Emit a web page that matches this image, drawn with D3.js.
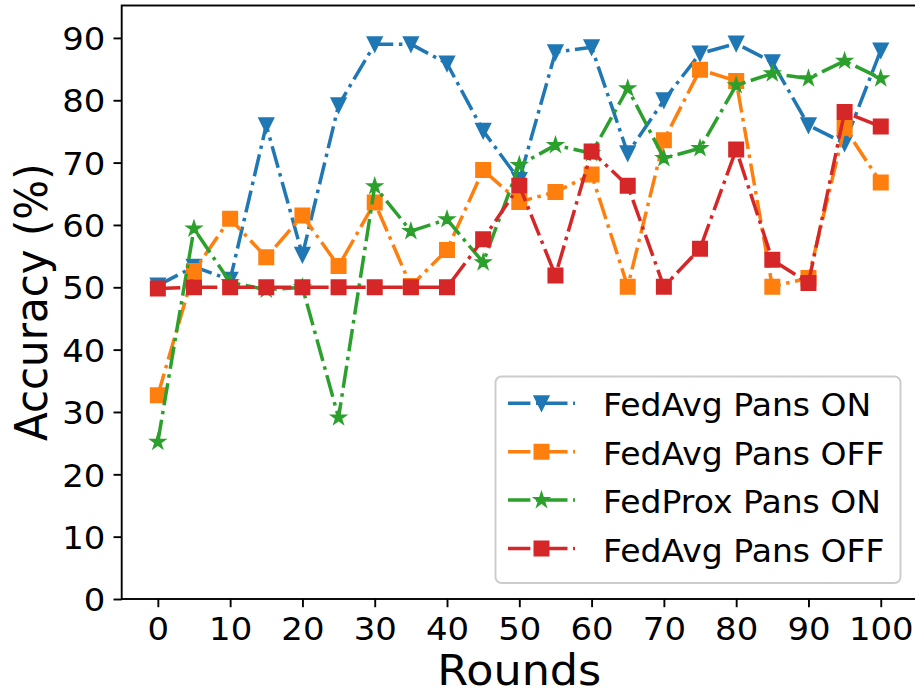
<!DOCTYPE html>
<html>
<head>
<meta charset="utf-8">
<script src="https://cdn.jsdelivr.net/npm/d3@7"></script>
<style>
  html, body { margin: 0; padding: 0; background: #fff; }
  svg { display: block; }
  text { font-family: "DejaVu Sans", sans-serif; fill: #000; }
</style>
</head>
<body>
<svg id="chart" width="915" height="695"></svg>
<script>
// Accuracy per communication round
const rounds = [0, 5, 10, 15, 20, 25, 30, 35, 40, 45, 50, 55, 60, 65, 70, 75, 80, 85, 90, 95, 100];

const fedAvgOn = [50.3, 53.3, 51.2, 76.0, 55.2, 79.2, 89.0, 89.0, 85.9, 75.1, 67.2,
                  87.7, 88.5, 71.5, 80.0, 87.5, 89.1, 86.1, 76.0, 73.1, 88.0];
const fedAvgOff = [32.7, 52.6, 61.0, 54.8, 61.5, 53.4, 63.6, 50.2, 56.0, 68.8, 63.7,
                   65.3, 68.1, 50.1, 73.6, 84.9, 83.1, 50.1, 51.5, 75.6, 66.8];
const fedProxOn = [25.2, 59.4, 50.8, 49.6, 50.0, 29.1, 66.2, 59.0, 60.9, 54.0, 69.6,
                   72.8, 71.5, 81.9, 70.7, 72.3, 82.4, 84.3, 83.5, 86.3, 83.5];
const fedAvgOff2 = [49.8, 50.0, 50.0, 50.0, 50.0, 50.0, 50.0, 50.0, 50.0, 57.7, 66.3,
                    51.9, 71.8, 66.3, 50.1, 56.2, 72.1, 54.4, 50.7, 78.1, 75.8];

const seriesNames = ["FedAvg Pans ON", "FedAvg Pans OFF", "FedProx Pans ON", "FedAvg Pans OFF"];
const seriesColors = ["#1f77b4", "#ff7f0e", "#2ca02c", "#d62728"];
const seriesMarkers = ["triangleDown", "square", "star", "square"];
const seriesValues = [fedAvgOn, fedAvgOff, fedProxOn, fedAvgOff2];

const xTicks = [0, 10, 20, 30, 40, 50, 60, 70, 80, 90, 100];
const yTicks = [0, 10, 20, 30, 40, 50, 60, 70, 80, 90];

const xLabel = "Rounds";
const yLabel = "Accuracy (%)";

// Layout
const plot = { left: 121.7, right: 916.9, top: 5.5, bottom: 599 };
const stretch = 1.06;           // horizontal text widening
const lineW = 3.5;
const dash = "22.4,5.6,3.5,5.6"; // dash-dot
const ms = 14;                  // marker size

const svg = d3.select("#chart");

const x = d3.scaleLinear().domain([-5, 105]).range([plot.left, plot.right]);
const y = d3.scaleLinear().domain([0, 95.2]).range([plot.bottom, plot.top]);

// Marker shapes centred on (0,0)
function markerPath(kind) {
  const h = ms / 2;
  if (kind === "square") {
    return `M${-h},${-h}H${h}V${h}H${-h}Z`;
  }
  if (kind === "triangleDown") {
    return `M0,${h}L${-h},${-h}L${h},${-h}Z`;
  }
  // five-pointed star
  const inner = h * 0.381966;
  const pts = [];
  for (let i = 0; i < 10; i++) {
    const r = i % 2 === 0 ? h : inner;
    const a = -Math.PI / 2 + i * Math.PI / 5;
    pts.push([r * Math.cos(a), r * Math.sin(a)]);
  }
  return "M" + pts.map(p => p[0].toFixed(2) + "," + p[1].toFixed(2)).join("L") + "Z";
}

// Series: line then its markers, in order
const line = d3.line().x((d, i) => x(rounds[i])).y(d => y(d));
const plotArea = svg.append("g");

seriesValues.forEach((vals, k) => {
  const g = plotArea.append("g");
  g.append("path")
    .datum(vals)
    .attr("d", line)
    .attr("fill", "none")
    .attr("stroke", seriesColors[k])
    .attr("stroke-width", lineW)
    .attr("stroke-dasharray", dash)
    .attr("stroke-linecap", "butt")
    .attr("stroke-linejoin", "round");
  g.selectAll("path.m")
    .data(vals)
    .enter().append("path")
    .attr("class", "m")
    .attr("d", markerPath(seriesMarkers[k]))
    .attr("transform", (d, i) => `translate(${x(rounds[i])},${y(d)})`)
    .attr("fill", seriesColors[k])
    .attr("stroke", seriesColors[k])
    .attr("stroke-width", 2)
    .attr("stroke-linejoin", "miter");
});

// Axes
const tickLen = 8.2;
const xAxis = d3.axisBottom(x).tickValues(xTicks).tickSize(tickLen).tickPadding(0).tickFormat(d3.format("d"));
const yAxis = d3.axisLeft(y).tickValues(yTicks).tickSize(tickLen).tickPadding(0).tickFormat(d3.format("d"));

const gx = svg.append("g").attr("transform", `translate(0,${plot.bottom})`).call(xAxis);
const gy = svg.append("g").attr("transform", `translate(${plot.left},0)`).call(yAxis);

[gx, gy].forEach(g => {
  g.select(".domain").remove();
  g.selectAll(".tick line").attr("stroke", "#000").attr("stroke-width", 1.9);
  g.selectAll(".tick text")
    .attr("font-family", "DejaVu Sans, sans-serif")
    .attr("font-size", 32)
    .attr("fill", "#000");
});

gx.selectAll(".tick text")
  .attr("y", 41.5)
  .attr("dy", null)
  .attr("x", 0)
  .attr("transform", `scale(${stretch},1)`);

gy.selectAll(".tick text")
  .attr("x", -16.4 / stretch)
  .attr("dy", null)
  .attr("y", 11.7)
  .attr("transform", `scale(${stretch},1)`);

// Spines
const spines = svg.append("g").attr("stroke", "#000").attr("stroke-width", 1.9).attr("fill", "none");
spines.append("rect")
  .attr("x", plot.left).attr("y", plot.top)
  .attr("width", plot.right - plot.left).attr("height", plot.bottom - plot.top);

// Axis titles
svg.append("text")
  .attr("transform", `translate(${(plot.left + plot.right) / 2},685) scale(${stretch},1)`)
  .attr("text-anchor", "middle")
  .attr("font-size", 42)
  .text(xLabel);

svg.append("text")
  .attr("transform", `translate(47,${(plot.top + plot.bottom) / 2}) scale(${stretch},1) rotate(-90)`)
  .attr("text-anchor", "middle")
  .attr("font-size", 42)
  .text(yLabel);

// Legend
const legend = svg.append("g");
legend.append("rect")
  .attr("x", 495.5).attr("y", 376.5)
  .attr("width", 405).attr("height", 206.5)
  .attr("rx", 6).attr("ry", 6)
  .attr("fill", "#fff").attr("fill-opacity", 0.8)
  .attr("stroke", "#cccccc").attr("stroke-width", 1.9);

const rowBase = [416.3, 464.7, 513.1, 561.5];
seriesNames.forEach((name, k) => {
  const hy = rowBase[k] - 13;
  const row = legend.append("g");
  row.append("line")
    .attr("x1", 508).attr("x2", 575)
    .attr("y1", hy).attr("y2", hy)
    .attr("stroke", seriesColors[k])
    .attr("stroke-width", lineW)
    .attr("stroke-dasharray", dash)
    .attr("stroke-linecap", "butt");
  row.append("path")
    .attr("d", markerPath(seriesMarkers[k]))
    .attr("transform", `translate(541.5,${hy})`)
    .attr("fill", seriesColors[k])
    .attr("stroke", seriesColors[k])
    .attr("stroke-width", 2);
  row.append("text")
    .attr("transform", `translate(603,${rowBase[k]}) scale(${stretch},1)`)
    .attr("font-size", 31.2)
    .text(name);
});
</script>
</body>
</html>
